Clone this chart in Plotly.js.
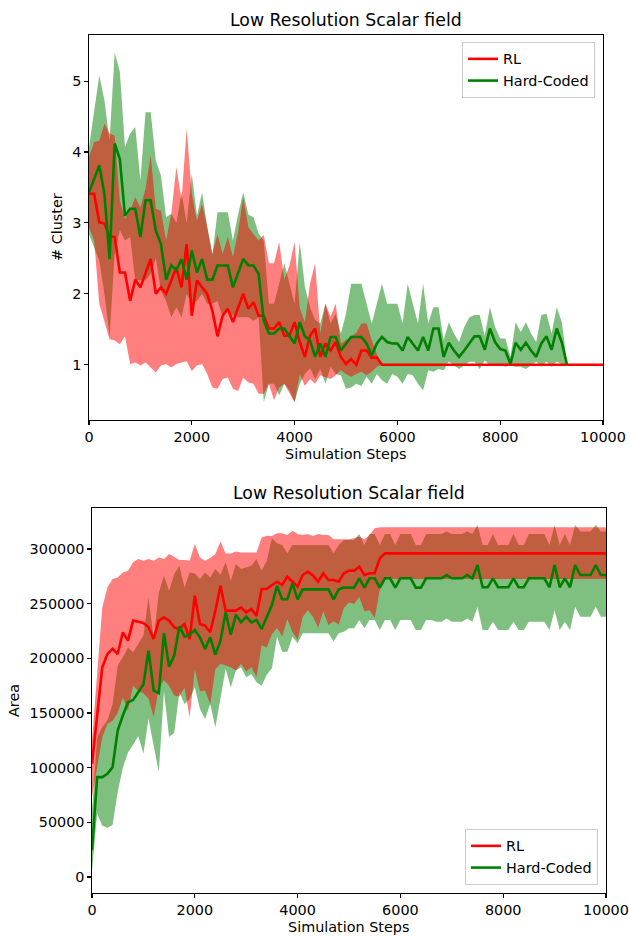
<!DOCTYPE html>
<html>
<head>
<meta charset="utf-8">
<script src="https://cdn.plot.ly/plotly-3.0.1.min.js"></script>
<style>html,body{margin:0;padding:0;background:#fff}#chart{width:629px;height:936px}</style>
</head>
<body>
<div id="chart"></div>
<script>
// ---------- DATA ----------
const CHART_TITLE = "Low Resolution Scalar field";
const X_LABEL = "Simulation Steps";
const Y_LABEL_TOP = "# Cluster";
const Y_LABEL_BOTTOM = "Area";
const SERIES_NAMES = ["RL", "Hard-Coded"];

const STEPS = [0,100,200,300,400,500,600,700,800,900,1000,1100,1200,1300,1400,1500,1600,1700,1800,1900,
2000,2100,2200,2300,2400,2500,2600,2700,2800,2900,3000,3100,3200,3300,3400,3500,3600,3700,3800,3900,
4000,4100,4200,4300,4400,4500,4600,4700,4800,4900,5000,5100,5200,5300,5400,5500,5600,5700,5800,5900,
6000,6100,6200,6300,6400,6500,6600,6700,6800,6900,7000,7100,7200,7300,7400,7500,7600,7700,7800,7900,
8000,8100,8200,8300,8400,8500,8600,8700,8800,8900,9000,9100,9200,9300,9400,9500,9600,9700,9800,9900,10000];

// Top panel: # Cluster
const clusterRL_mean = [3.41,3.41,3.01,2.99,2.81,2.80,2.30,2.30,1.90,2.20,2.09,2.28,2.49,2.00,2.09,2.00,2.19,2.37,2.09,2.70,
1.69,2.19,2.09,2.00,1.76,1.40,1.69,1.79,1.60,1.81,2.00,1.79,1.88,1.69,1.69,1.51,1.51,1.60,1.41,1.41,
1.60,1.32,1.11,1.41,1.51,1.11,1.30,1.20,1.32,1.11,1.01,1.08,1.00,1.20,1.20,1.10,1.10,1.00,1.00,1.00,
1.00,1.00,1.00,1.00,1.00,1.00,1.00,1.00,1.00,1.00,1.00,1.00,1.00,1.00,1.00,1.00,1.00,1.00,1.00,1.00,
1.00,1.00,1.00,1.00,1.00,1.00,1.00,1.00,1.00,1.00,1.00,1.00,1.00,1.00,1.00,1.00,1.00,1.00,1.00,1.00,1.00];
const clusterRL_upper = [3.93,4.14,4.16,4.40,4.26,4.23,3.32,3.05,3.17,3.36,3.22,3.48,3.95,3.20,3.17,2.75,3.13,3.79,3.32,4.33,
3.41,3.03,3.27,2.94,2.56,2.84,2.56,2.80,2.52,2.87,3.36,2.94,2.84,2.75,2.83,2.43,2.43,2.73,2.20,2.40,
2.73,1.80,1.60,2.14,2.43,1.44,1.86,1.68,1.86,1.30,1.35,1.40,1.45,1.58,1.58,1.35,1.15,1.00,1.00,1.00,
1.00,1.00,1.00,1.00,1.00,1.00,1.00,1.00,1.00,1.00,1.00,1.00,1.00,1.00,1.00,1.00,1.00,1.00,1.00,1.00,
1.00,1.00,1.00,1.00,1.00,1.00,1.00,1.00,1.00,1.00,1.00,1.00,1.00,1.00,1.00,1.00,1.00,1.00,1.00,1.00,1.00];
const clusterRL_lower = [2.94,2.75,1.86,1.62,1.36,1.34,1.29,1.40,1.01,1.03,0.99,1.03,0.96,0.89,0.99,1.01,0.96,1.01,1.03,1.05,
0.91,0.99,1.01,0.87,0.68,0.66,0.80,0.82,0.66,0.63,0.82,0.75,0.73,0.59,0.59,0.73,0.50,0.68,0.73,0.59,
0.47,0.87,0.70,0.80,0.73,0.85,0.83,0.80,0.85,0.92,0.87,0.83,0.87,0.90,0.85,0.90,0.97,1.00,1.00,1.00,
1.00,1.00,1.00,1.00,1.00,1.00,1.00,1.00,1.00,1.00,1.00,1.00,1.00,1.00,1.00,1.00,1.00,1.00,1.00,1.00,
1.00,1.00,1.00,1.00,1.00,1.00,1.00,1.00,1.00,1.00,1.00,1.00,1.00,1.00,1.00,1.00,1.00,1.00,1.00,1.00,1.00];

const STEPS_HC_TOP = STEPS.slice(0, 94); // hard-coded runs recorded up to 9300 steps
const clusterHC_mean = [3.43,3.62,3.81,3.41,2.49,4.12,3.90,3.10,3.20,3.20,2.80,3.32,3.32,2.89,2.70,2.20,2.40,2.33,2.49,2.20,
2.61,2.30,2.49,2.20,2.20,2.40,2.40,2.40,2.09,2.28,2.49,2.40,2.40,2.28,1.62,1.44,1.44,1.51,1.51,1.40,
1.30,1.60,1.40,1.34,1.11,1.30,1.11,1.39,1.39,1.20,1.30,1.39,1.39,1.39,1.30,1.13,1.30,1.39,1.32,1.30,
1.30,1.20,1.39,1.30,1.20,1.39,1.20,1.51,1.51,1.11,1.31,1.20,1.11,1.20,1.30,1.40,1.40,1.21,1.51,1.32,
1.22,1.20,1.01,1.31,1.21,1.31,1.20,1.11,1.30,1.40,1.21,1.51,1.31,1.00];
const clusterHC_upper = [4.07,4.60,5.08,4.73,4.16,5.40,5.13,4.07,4.26,4.35,3.60,4.56,4.56,3.88,3.67,3.08,3.13,3.00,3.43,3.00,
3.69,3.10,3.43,2.95,2.55,3.15,3.15,3.15,2.75,3.12,3.43,3.12,3.08,2.85,2.75,1.86,1.86,2.14,2.43,2.14,
1.86,2.73,2.10,1.81,1.63,1.58,1.86,1.58,1.72,1.44,1.72,2.14,2.14,2.14,1.86,1.58,1.86,2.14,1.86,1.86,
1.86,1.58,2.14,1.86,1.58,2.14,1.58,1.81,1.81,1.35,1.60,1.44,1.32,1.53,1.67,1.70,1.70,1.41,1.81,1.53,
1.37,1.37,1.11,1.60,1.46,1.60,1.44,1.32,1.70,1.72,1.44,1.81,1.60,1.01];
const clusterHC_lower = [2.84,2.66,2.47,2.00,1.39,2.56,2.90,2.75,2.80,2.19,2.19,2.19,2.28,2.50,2.04,1.90,1.67,1.81,1.67,2.00,
1.86,1.90,2.00,1.86,1.86,1.90,1.67,1.76,1.70,1.67,1.67,1.67,1.62,1.67,0.47,0.73,0.73,0.57,0.73,0.64,
0.47,0.73,0.87,0.95,0.80,0.94,0.73,0.97,0.87,0.85,0.66,0.68,0.73,0.70,0.83,0.73,0.87,0.78,0.73,0.87,
0.83,0.73,0.87,0.85,0.73,0.64,0.92,0.90,0.94,0.92,1.04,0.99,0.94,0.99,1.04,1.04,0.94,1.06,0.99,0.99,
1.01,0.97,0.99,0.97,0.97,0.94,0.99,1.04,0.97,1.04,0.97,1.04,1.01,1.00];

// Bottom panel: Area
const areaRL_mean = [103500,146200,191800,204000,208600,204000,223800,216200,234500,233500,232300,228400,217700,234500,237500,234500,228400,226900,231400,217700,
257300,231400,229900,223800,243600,266400,243600,243600,243600,246600,242100,245100,239000,263400,263400,267100,270100,267100,274700,270100,
265600,276200,279300,275700,270100,277800,271700,271700,270100,277800,280200,280200,283900,276200,277800,277800,291500,296000,296000,296000,
296000,296000,296000,296000,296000,296000,296000,296000,296000,296000,296000,296000,296000,296000,296000,296000,296000,296000,296000,296000,
296000,296000,296000,296000,296000,296000,296000,296000,296000,296000,296000,296000,296000,296000,296000,296000,296000,296000,296000,296000,296000];
const areaRL_upper = [125000,188800,246600,264900,272500,274000,278600,280100,287800,290800,289300,290800,289300,292300,290800,295400,292300,289900,289900,289300,
304500,292300,289300,291700,295400,306900,296000,296000,297800,296900,296900,296900,296900,310600,312100,311900,314400,314400,312800,316800,
313700,312800,313700,311900,313700,312800,312800,308900,308900,308900,308900,309800,311300,308900,312800,318900,319800,319800,319800,319800,
319800,319800,319800,319800,319800,319800,319800,319800,319800,319800,319800,319800,319800,319800,319800,319800,319800,319800,319800,319800,
319800,319800,319800,319800,319800,319800,319800,319800,319800,319800,319800,319800,319800,319800,319800,319800,319800,319800,319800,319800,319800];
const areaRL_lower = [73000,100000,128000,140000,143000,150000,164400,152300,175000,170000,168000,163000,146200,173000,180000,175000,166000,165000,173000,146200,
190000,170000,170500,158000,190000,195000,193400,191800,189000,195000,188000,192000,183000,212000,210000,222000,228000,220000,236000,224000,
217000,238000,244000,238000,228000,243000,230500,234000,231000,246000,251000,250000,256000,243000,244000,237000,263000,272500,272500,272500,
272500,272500,272500,272500,272500,272500,272500,272500,272500,272500,272500,272500,272500,272500,272500,272500,272500,272500,272500,272500,
272500,272500,272500,272500,272500,272500,272500,272500,272500,272500,272500,272500,272500,272500,272500,272500,272500,272500,272500,272500,272500];

const areaHC_mean = [24400,91400,91400,94400,100500,134000,147700,159900,162000,169000,176000,207100,170500,168100,222900,192400,202800,229300,219800,221700,
225900,219200,208600,219200,203400,216200,242100,221700,239900,232900,238100,232900,235100,226900,238100,248800,266200,254000,254000,268600,
254000,263100,263100,263100,263100,263100,263100,254000,263100,264700,264700,264700,273200,264700,273200,273200,264700,273200,273200,264700,
273200,273200,273200,264700,264700,273200,273200,273200,273200,276200,273200,273200,273200,276200,273200,285300,265000,265000,273200,265000,
265000,265000,273200,265000,265000,273200,273200,273200,273200,265000,285300,265000,273200,265000,285300,276200,276200,276200,285300,276200,276200];
const areaHC_upper = [60000,127900,137000,143100,158300,193400,201000,210100,205500,213200,220800,255800,217700,260300,275600,261900,277100,284700,264900,278600,
277700,272500,278600,274000,281700,276500,287800,271000,286200,281700,283200,284700,290800,280100,289300,309800,305200,303700,296100,303700,
303700,303700,303700,303700,303700,303700,303700,296100,303700,308300,308300,308300,313700,303700,313700,313700,303700,313700,313700,303700,
313700,313700,313700,303700,303700,313700,313700,313700,313700,316000,313700,313700,313700,316000,313700,322000,303600,303600,313700,303600,
303600,303600,313700,303600,303600,313700,313700,313700,313700,303600,322000,303600,313700,303600,322000,316000,316000,316000,322000,316000,316000];
const areaHC_lower = [5000,58000,47000,45000,47600,78000,100000,114000,121000,129000,113000,145000,120000,96000,170000,128000,132000,169000,158300,162900,
173600,153800,144600,158300,137000,164400,190300,173600,188800,191800,182700,185700,178100,175000,185000,190900,219800,206100,206100,219800,
213700,222900,222900,222900,222900,222900,222900,215300,222900,224400,227500,227500,235100,227500,235100,235100,225900,235100,235100,225900,
235100,235100,235100,225900,225900,235100,235100,233500,233500,236500,233500,233500,233500,236500,233500,247200,225900,225900,233500,225900,
225900,225900,233500,225900,225900,233500,233500,233500,233500,225900,244000,225900,233500,225900,247200,238000,238000,238000,247200,238000,238000];

// ---------- STYLE ----------
const W = 629, H = 936;
const RED = "#ff0000", GREEN = "#008000";
const RED_FILL = "rgba(255,0,0,0.5)", GREEN_FILL = "rgba(0,128,0,0.5)";
const FONT = "DejaVu Sans, sans-serif";
const fx = p => p / W;
const fy = p => 1 - p / H;

function band(x, lo, hi, fill, xa, ya) {
  return [
    {x: x, y: hi, xaxis: xa, yaxis: ya, type: "scatter", mode: "lines",
     line: {width: 0, color: fill}, showlegend: false, hoverinfo: "skip"},
    {x: x, y: lo, xaxis: xa, yaxis: ya, type: "scatter", mode: "lines",
     line: {width: 0, color: fill}, fill: "tonexty", fillcolor: fill,
     showlegend: false, hoverinfo: "skip"}
  ];
}
function meanLine(x, y, name, color, xa, ya, legend) {
  return {x: x, y: y, xaxis: xa, yaxis: ya, type: "scatter", mode: "lines", name: name,
          line: {color: color, width: 2.6}, legend: legend};
}

const traces = [].concat(
  band(STEPS_HC_TOP, clusterHC_lower, clusterHC_upper, GREEN_FILL, "x", "y"),
  band(STEPS, clusterRL_lower, clusterRL_upper, RED_FILL, "x", "y"),
  [meanLine(STEPS, clusterRL_mean, SERIES_NAMES[0], RED, "x", "y", "legend"),
   meanLine(STEPS_HC_TOP, clusterHC_mean, SERIES_NAMES[1], GREEN, "x", "y", "legend")],
  band(STEPS, areaHC_lower, areaHC_upper, GREEN_FILL, "x2", "y2"),
  band(STEPS, areaRL_lower, areaRL_upper, RED_FILL, "x2", "y2"),
  [meanLine(STEPS, areaRL_mean, SERIES_NAMES[0], RED, "x2", "y2", "legend2"),
   meanLine(STEPS, areaHC_mean, SERIES_NAMES[1], GREEN, "x2", "y2", "legend2")]
);

const TICK = 14.4, TITLE = 17.3;
const axisBase = {
  showgrid: false, zeroline: false, showline: true, linecolor: "#000", linewidth: 1.1,
  mirror: true, ticks: "outside", ticklen: 3.5, tickwidth: 1.1, tickcolor: "#000",
  tickfont: {family: FONT, size: TICK, color: "#000"}, automargin: false, fixedrange: true,
  ticklabeloverflow: "allow"
};
const legendBase = {
  bgcolor: "rgba(255,255,255,0.8)", bordercolor: "#cccccc", borderwidth: 1,
  font: {family: FONT, size: TICK, color: "#000"}, itemwidth: 30, tracegroupgap: 0,
  traceorder: "normal"
};

const layout = {
  width: W, height: H, margin: {l: 0, r: 0, t: 0, b: 0},
  paper_bgcolor: "#fff", plot_bgcolor: "#fff",
  font: {family: FONT, size: TICK, color: "#000"},
  xaxis: Object.assign({}, axisBase, {domain: [fx(89), fx(603)], anchor: "y",
    range: [0, 10000], tickvals: [0, 2000, 4000, 6000, 8000, 10000], tickformat: "d"}),
  yaxis: Object.assign({}, axisBase, {domain: [fy(420), fy(35)], anchor: "x",
    range: [0.22, 5.65], tickvals: [1, 2, 3, 4, 5]}),
  xaxis2: Object.assign({}, axisBase, {domain: [fx(92), fx(606)], anchor: "y2",
    range: [0, 10000], tickvals: [0, 2000, 4000, 6000, 8000, 10000], tickformat: "d"}),
  yaxis2: Object.assign({}, axisBase, {domain: [fy(893), fy(508)], anchor: "x2",
    range: [-14600, 337500], tickvals: [0, 50000, 100000, 150000, 200000, 250000, 300000], tickformat: "d"}),
  legend: Object.assign({}, legendBase, {x: fx(595), y: fy(42), xanchor: "right", yanchor: "top"}),
  legend2: Object.assign({}, legendBase, {x: fx(598), y: fy(885), xanchor: "right", yanchor: "bottom"}),
  annotations: [
    {text: CHART_TITLE, xref: "paper", yref: "paper", x: fx(346), y: fy(20),
     xanchor: "center", yanchor: "middle", showarrow: false, font: {family: FONT, size: TITLE, color: "#000"}},
    {text: CHART_TITLE, xref: "paper", yref: "paper", x: fx(349), y: fy(493),
     xanchor: "center", yanchor: "middle", showarrow: false, font: {family: FONT, size: TITLE, color: "#000"}},
    {text: X_LABEL, xref: "paper", yref: "paper", x: fx(346), y: fy(454),
     xanchor: "center", yanchor: "middle", showarrow: false, font: {family: FONT, size: TICK, color: "#000"}},
    {text: X_LABEL, xref: "paper", yref: "paper", x: fx(349), y: fy(927),
     xanchor: "center", yanchor: "middle", showarrow: false, font: {family: FONT, size: TICK, color: "#000"}},
    {text: Y_LABEL_TOP, xref: "paper", yref: "paper", x: fx(57), y: fy(227), textangle: -90,
     xanchor: "center", yanchor: "middle", showarrow: false, font: {family: FONT, size: TICK, color: "#000"}},
    {text: Y_LABEL_BOTTOM, xref: "paper", yref: "paper", x: fx(14), y: fy(700), textangle: -90,
     xanchor: "center", yanchor: "middle", showarrow: false, font: {family: FONT, size: TICK, color: "#000"}}
  ]
};

Plotly.newPlot("chart", traces, layout, {staticPlot: true, displayModeBar: false});
</script>
</body>
</html>
